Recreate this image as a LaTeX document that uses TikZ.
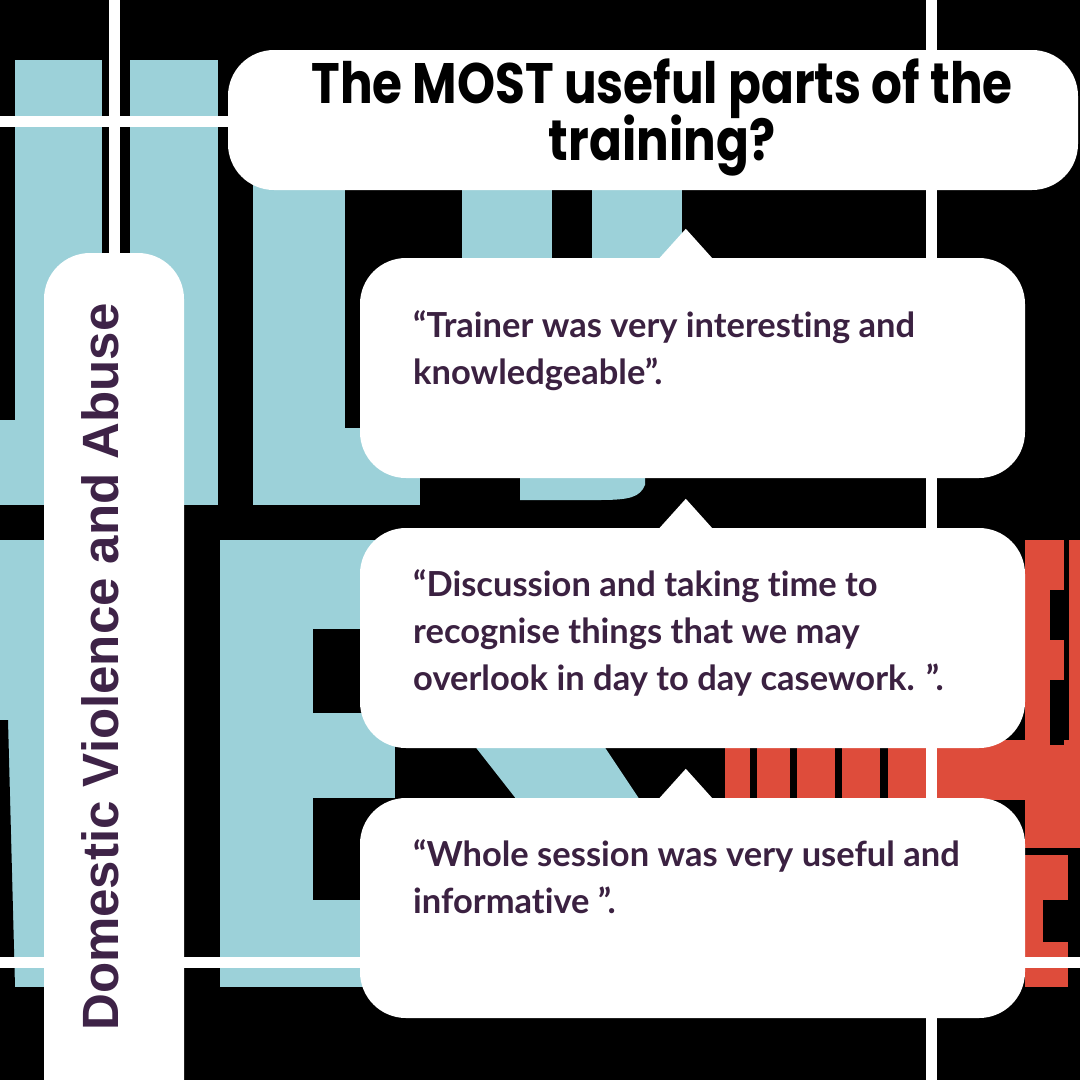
\documentclass[tikz,border=0pt]{standalone}
\usepackage{fontspec}
\setmainfont{Liberation Sans}
\newfontfamily\titlef{Poppins}
\newfontfamily\quotef{Lato}[Ligatures=NoCommon]
\usetikzlibrary{calc}
\definecolor{bgcyan}{HTML}{9CD1D9}
\definecolor{bgred}{HTML}{DE4C3B}
\definecolor{ink}{HTML}{3B2141}
\definecolor{vink}{HTML}{3E2347}
\begin{document}
\begin{tikzpicture}[x=1pt,y=-1pt,
  cyanblk/.style={fill=bgcyan},
  redblk/.style={fill=bgred},
  gridline/.style={draw=white,line width=11pt},
  panel/.style={fill=white,draw=none,rounded corners=46pt,inner sep=0pt},
  tail/.style={fill=white},
  titletext/.style={inner sep=0pt,text=black,font=\titlef\bfseries\fontsize{57}{57}\selectfont},
  verttext/.style={inner sep=0pt,text=vink,font=\bfseries\fontsize{51}{51}\selectfont},
  quotetext/.style={inner sep=0pt,text=ink,font=\quotef\bfseries\fontsize{34.5}{34.5}\selectfont}]
\useasboundingbox (0,0) rectangle (1080,1080);
\fill[black] (0,0) rectangle (1080,1080);
% ---- blurred background letters (cyan) ----
\fill[cyanblk] (15,60) rectangle (102,505);
\fill[cyanblk] (0,420) rectangle (44,505);
\fill[cyanblk] (130,60) rectangle (218,505);
\fill[cyanblk] (253,150) rectangle (345,505);
\fill[cyanblk] (345,428) rectangle (420,505);
\fill[cyanblk] (462,150) rectangle (552,300);
\fill[cyanblk] (592,150) rectangle (682,300);
\fill[cyanblk] (0,540) rectangle (44,987);
\fill[black] (0,720) -- (8,720) -- (15,987) -- (0,987) -- cycle;
\fill[cyanblk] (220,540) rectangle (395,987);
\fill[black] (313,629) rectangle (395,713);
\fill[black] (313,798) rectangle (395,900);
\fill[cyanblk] (470,740) -- (600,740) -- (640,800) -- (517,800) -- cycle;
\fill[cyanblk] (520,470) -- (645,470) -- (645,485) .. controls (640,497) and (630,500) .. (600,500) -- (520,500) -- cycle;
% ---- background letters (red) ----
\fill[redblk] (725,740) rectangle (1080,800);
\fill[black] (750,740) rectangle (757,800);
\fill[black] (790,740) rectangle (797,800);
\fill[black] (835,740) rectangle (842,800);
\fill[black] (880,740) rectangle (888,800);
\fill[redblk] (1025,800) rectangle (1080,848);
\fill[redblk] (1025,540) rectangle (1064,745);
\fill[black] (1050,590) rectangle (1064,640);
\fill[black] (1050,680) rectangle (1064,745);
\fill[redblk] (1069,540) rectangle (1080,745);
\fill[redblk] (1025,855) rectangle (1068,987);
\fill[black] (1043,900) rectangle (1068,942);
% ---- white grid lines ----
\draw[gridline] (114,0) -- (114,260);
\draw[gridline] (0,121) -- (240,121);
\draw[gridline] (931.5,0) -- (931.5,1080);
\draw[gridline] (0,962) -- (1080,962);
% ---- panels ----
\node[panel,minimum width=850pt,minimum height=140pt] (title) at (653,120) {};
\node[panel,minimum width=140pt,minimum height=880pt] (side) at (114,693) {};
\node[panel,minimum width=665pt,minimum height=220pt] (q1) at (692.5,368) {};
\node[panel,minimum width=665pt,minimum height=220pt] (q2) at (692.5,638) {};
\node[panel,minimum width=665pt,minimum height=220pt] (q3) at (692.5,908) {};
% ---- speech-bubble tails ----
\foreach \b in {q1,q2,q3}{
  \fill[tail] ($(\b.north west)+(299,1)$) -- ($(\b.north west)+(326,-29)$) -- ($(\b.north west)+(353,1)$) -- cycle;
}
% ---- texts ----
\node[titletext,anchor=base] (tl1) at (662,103) {\scalebox{0.85}[1]{The MOST useful parts of the}};
\node[titletext,anchor=base] (tl2) at (662,160) {\scalebox{0.85}[1]{training?}};
\node[verttext,rotate=90,anchor=base] (vt) at (118,667) {Domestic Violence and Abuse};
\node[quotetext,anchor=base west] (a1) at (413,337) {“Trainer was very interesting and};
\node[quotetext,anchor=base west] (a2) at (413,384) {knowledgeable”.};
\node[quotetext,anchor=base west] (b1) at (413,596) {“Discussion and taking time to};
\node[quotetext,anchor=base west] (b2) at (413,643) {recognise things that we may};
\node[quotetext,anchor=base west] (b3) at (413,690) {overlook in day to day casework. ”.};
\node[quotetext,anchor=base west] (c1) at (413,866) {“Whole session was very useful and};
\node[quotetext,anchor=base west] (c2) at (413,913) {informative ”.};
\end{tikzpicture}
\end{document}
